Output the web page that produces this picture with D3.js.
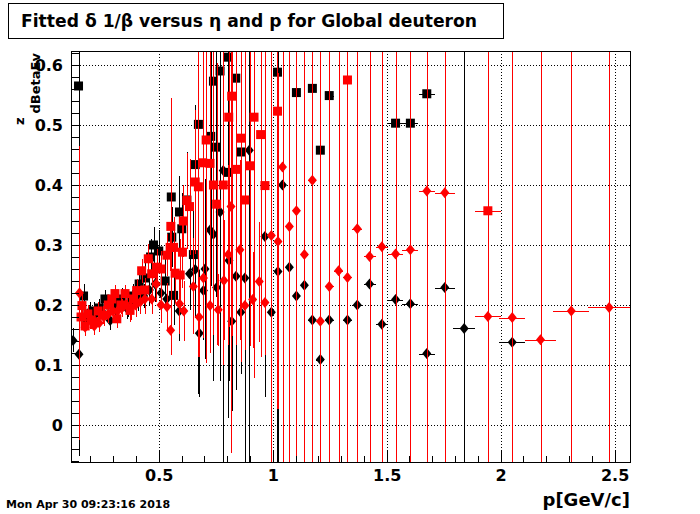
<!DOCTYPE html>
<html lang="en">
<head>
<meta charset="UTF-8">
<title>Fitted dBeta vs eta and p</title>
<style>
  body { margin: 0; background: #fff; }
  svg text { font-family: "DejaVu Sans", sans-serif; font-weight: bold; fill: #000; }
</style>
</head>
<body>
<div id="chart"></div>
<script src="https://d3js.org/d3.v7.min.js"></script>
<script>
// black squares
var bsP = [0.148,0.170,0.190,0.214,0.239,0.264,0.289,0.314,0.339,0.364,0.389,0.414,0.439,0.464,0.477,0.500,0.528,0.555,0.557,0.565,0.591,0.601,0.623,0.652,0.660,0.674,0.728,0.740,0.751,0.769,0.803,0.805,0.838,0.861,1.021,1.104,1.174,1.209,1.248,1.539,1.604,1.676];
var bsZ = [0.565,0.215,0.185,0.190,0.195,0.210,0.200,0.205,0.210,0.200,0.215,0.235,0.245,0.280,0.300,0.290,0.240,0.380,0.313,0.216,0.355,0.327,0.375,0.284,0.434,0.501,0.481,0.573,0.463,0.590,0.421,0.613,0.578,0.455,0.588,0.554,0.561,0.458,0.549,0.503,0.503,0.552];
var bsEz = [0.130,0.020,0.015,0.015,0.015,0.015,0.015,0.015,0.018,0.020,0.020,0.020,0.025,0.030,0.030,0.035,0.040,0.050,0.050,0.050,0.060,0.060,0.080,0.080,0.100,0.450,0.250,0.500,0.250,0.516,0.410,0.300,0.520,0.370,0.700,0.800,0.800,0.800,0.800,1.000,1.000,1.000];
var bsEp = [0.008,0.008,0.008,0.008,0.008,0.008,0.008,0.008,0.008,0.008,0.008,0.008,0.008,0.008,0.008,0.008,0.008,0.008,0.008,0.008,0.008,0.008,0.008,0.008,0.008,0.008,0.008,0.008,0.008,0.008,0.008,0.008,0.008,0.008,0.010,0.016,0.017,0.018,0.019,0.032,0.035,0.036];

// black diamonds
var bdP = [0.124,0.150,0.179,0.199,0.224,0.249,0.287,0.309,0.334,0.359,0.384,0.409,0.434,0.459,0.484,0.510,0.535,0.590,0.635,0.660,0.678,0.696,0.703,0.725,0.740,0.754,0.769,0.783,0.808,0.820,0.839,0.860,0.878,0.897,0.966,0.994,1.023,1.043,1.073,1.104,1.139,1.174,1.209,1.248,1.328,1.371,1.425,1.479,1.539,1.604,1.676,1.755,1.840,2.051];
var bdZ = [0.141,0.118,0.175,0.190,0.185,0.190,0.174,0.195,0.200,0.195,0.205,0.210,0.215,0.225,0.235,0.220,0.210,0.190,0.252,0.259,0.153,0.224,0.260,0.325,0.318,0.229,0.355,0.424,0.274,0.173,0.248,0.188,0.245,0.458,0.314,0.188,0.256,0.400,0.263,0.215,0.233,0.175,0.109,0.175,0.175,0.200,0.235,0.168,0.209,0.202,0.119,0.229,0.161,0.138];
var bdEz = [0.020,0.170,0.015,0.015,0.015,0.015,0.015,0.015,0.015,0.018,0.020,0.020,0.020,0.025,0.030,0.030,0.035,0.050,0.060,0.080,0.106,0.082,0.150,0.200,0.200,0.090,0.250,0.600,0.200,0.150,0.150,0.100,0.400,0.600,0.267,0.600,0.600,0.800,0.800,0.800,0.800,0.800,0.800,0.800,0.800,0.800,0.800,0.800,0.800,0.800,0.800,0.800,1.000,0.800];
var bdEp = [0.008,0.008,0.008,0.008,0.008,0.008,0.008,0.008,0.008,0.008,0.008,0.008,0.008,0.008,0.008,0.008,0.008,0.008,0.008,0.008,0.008,0.008,0.008,0.008,0.008,0.008,0.008,0.008,0.008,0.008,0.008,0.008,0.008,0.008,0.012,0.014,0.012,0.012,0.015,0.016,0.017,0.017,0.018,0.019,0.020,0.022,0.026,0.027,0.032,0.035,0.036,0.044,0.048,0.057];

// red squares
var rsP = [0.163,0.159,0.177,0.189,0.204,0.217,0.234,0.257,0.279,0.294,0.308,0.316,0.334,0.352,0.374,0.389,0.403,0.425,0.439,0.454,0.469,0.491,0.510,0.536,0.550,0.553,0.565,0.572,0.594,0.604,0.608,0.623,0.635,0.660,0.674,0.693,0.708,0.725,0.740,0.754,0.783,0.807,0.820,0.839,0.860,0.878,0.900,0.918,0.947,0.966,1.021,1.328,1.944];
var rsZ = [0.199,0.180,0.165,0.185,0.175,0.172,0.190,0.183,0.200,0.210,0.219,0.177,0.200,0.219,0.191,0.210,0.224,0.257,0.225,0.277,0.252,0.263,0.260,0.283,0.296,0.331,0.296,0.253,0.250,0.288,0.340,0.374,0.364,0.405,0.397,0.437,0.475,0.436,0.400,0.368,0.400,0.513,0.548,0.426,0.478,0.375,0.432,0.513,0.484,0.399,0.523,0.575,0.357];
var rsEz = [0.020,0.020,0.015,0.015,0.015,0.015,0.015,0.015,0.015,0.015,0.015,0.015,0.015,0.015,0.020,0.020,0.020,0.020,0.020,0.025,0.025,0.030,0.030,0.035,0.040,0.214,0.050,0.050,0.060,0.060,0.060,0.080,0.080,0.120,0.284,0.200,0.372,0.316,0.250,0.235,0.300,0.350,0.400,0.293,0.373,0.250,0.300,0.435,0.370,0.282,0.496,1.000,1.000];
var rsEp = [0.008,0.008,0.008,0.008,0.008,0.008,0.008,0.008,0.008,0.008,0.008,0.008,0.008,0.008,0.008,0.008,0.008,0.008,0.008,0.008,0.008,0.008,0.008,0.008,0.008,0.008,0.008,0.008,0.008,0.008,0.008,0.008,0.008,0.008,0.008,0.008,0.008,0.008,0.008,0.008,0.008,0.008,0.008,0.008,0.008,0.008,0.008,0.012,0.012,0.012,0.012,0.020,0.056];

// red diamonds
var rdP = [0.152,0.177,0.199,0.217,0.239,0.259,0.279,0.299,0.319,0.339,0.359,0.379,0.399,0.419,0.439,0.469,0.489,0.510,0.536,0.552,0.591,0.610,0.652,0.677,0.696,0.725,0.761,0.786,0.805,0.817,0.856,0.878,0.912,0.941,0.966,0.994,1.023,1.043,1.073,1.104,1.139,1.174,1.209,1.248,1.289,1.328,1.371,1.425,1.479,1.539,1.604,1.676,1.755,1.944,2.051,2.175,2.310,2.476];
var rdZ = [0.220,0.163,0.175,0.165,0.170,0.180,0.185,0.190,0.190,0.195,0.200,0.195,0.200,0.205,0.210,0.210,0.235,0.200,0.197,0.158,0.202,0.190,0.231,0.180,0.245,0.199,0.192,0.241,0.284,0.364,0.292,0.199,0.209,0.239,0.204,0.316,0.306,0.430,0.331,0.357,0.284,0.408,0.173,0.231,0.257,0.246,0.327,0.281,0.297,0.285,0.292,0.390,0.387,0.181,0.179,0.142,0.190,0.196];
var rdEz = [0.245,0.015,0.015,0.015,0.015,0.015,0.015,0.015,0.015,0.015,0.015,0.020,0.020,0.020,0.025,0.025,0.030,0.030,0.040,0.040,0.050,0.050,0.080,0.067,0.100,0.060,0.060,0.100,0.150,0.410,0.150,0.070,0.080,0.100,0.080,0.800,0.280,1.000,1.000,1.000,1.000,1.000,1.000,1.000,1.000,1.000,1.000,1.000,1.000,1.000,1.000,1.000,1.000,1.000,1.000,1.000,1.000,1.000];
var rdEp = [0.008,0.008,0.008,0.008,0.008,0.008,0.008,0.008,0.008,0.008,0.008,0.008,0.008,0.008,0.008,0.008,0.008,0.008,0.008,0.008,0.008,0.008,0.008,0.008,0.008,0.008,0.008,0.008,0.008,0.008,0.008,0.008,0.012,0.012,0.012,0.014,0.012,0.012,0.015,0.016,0.017,0.017,0.018,0.019,0.019,0.020,0.022,0.026,0.027,0.032,0.035,0.036,0.044,0.056,0.057,0.066,0.079,0.092];

var xTicks = [0.5, 1, 1.5, 2, 2.5];
var yTicks = [0, 0.1, 0.2, 0.3, 0.4, 0.5, 0.6];

var titleText = "Fitted \u03b4 1/\u03b2 versus \u03b7 and p for Global deuteron";
var dateText = "Mon Apr 30 09:23:16 2018";

var W = 700, H = 514;
var fL = 71, fR = 631, fT = 51, fB = 462;

var svg = d3.select("#chart").append("svg")
    .attr("width", W)
    .attr("height", H);

svg.append("rect").attr("width", W).attr("height", H).attr("fill", "#fff");

var x = d3.scaleLinear().domain([0.115, 2.572]).range([fL, fR]);
var y = d3.scaleLinear().domain([-0.0617, 0.6233]).range([fB, fT]);

// title box
svg.append("rect")
    .attr("x", 8.5).attr("y", 3.5).attr("width", 495).attr("height", 35)
    .attr("fill", "#fff").attr("stroke", "#000").attr("stroke-width", 1);
svg.append("text")
    .attr("x", 21).attr("y", 27)
    .style("font-size", "17px")
    .attr("textLength", 456)
    .attr("lengthAdjust", "spacingAndGlyphs")
    .text(titleText);

// dotted grid
var grid = svg.append("g").attr("stroke", "#000").attr("stroke-width", 1)
    .attr("stroke-dasharray", "1,2").attr("shape-rendering", "crispEdges");
grid.selectAll("line.gx").data(xTicks).enter().append("line")
    .attr("x1", d => Math.round(x(d)) + 0.5).attr("x2", d => Math.round(x(d)) + 0.5)
    .attr("y1", fT).attr("y2", fB);
grid.selectAll("line.gy").data(yTicks).enter().append("line")
    .attr("y1", d => Math.round(y(d)) + 0.5).attr("y2", d => Math.round(y(d)) + 0.5)
    .attr("x1", fL).attr("x2", fR);

// data
svg.append("clipPath").attr("id", "frameClip")
    .append("rect").attr("x", fL).attr("y", fT).attr("width", fR - fL).attr("height", fB - fT);
var plot = svg.append("g").attr("clip-path", "url(#frameClip)");

function drawGroup(ps, zs, ezs, eps, color, shape) {
    var rows = ps.map(function (p, i) {
        return { p: p, z: zs[i], ez: ezs[i], ep: eps[i] };
    });
    var g = plot.append("g");
    var err = g.append("g").attr("stroke", color).attr("stroke-width", 1)
        .attr("shape-rendering", "crispEdges");
    err.selectAll("line.v").data(rows).enter().append("line")
        .attr("x1", d => Math.round(x(d.p)) + 0.5).attr("x2", d => Math.round(x(d.p)) + 0.5)
        .attr("y1", d => y(d.z - d.ez)).attr("y2", d => y(d.z + d.ez));
    err.selectAll("line.h").data(rows).enter().append("line")
        .attr("y1", d => Math.round(y(d.z)) + 0.5).attr("y2", d => Math.round(y(d.z)) + 0.5)
        .attr("x1", d => x(d.p - d.ep)).attr("x2", d => x(d.p + d.ep));
    if (shape === "square") {
        g.selectAll("rect").data(rows).enter().append("rect")
            .attr("x", d => x(d.p) - 4.5).attr("y", d => y(d.z) - 4.5)
            .attr("width", 9).attr("height", 9)
            .attr("fill", color);
    } else {
        g.selectAll("path").data(rows).enter().append("path")
            .attr("d", function (d) {
                var cx = x(d.p), cy = y(d.z), hw = 4.5, hh = 5.5;
                return "M" + cx + "," + (cy - hh) + " L" + (cx + hw) + "," + cy +
                    " L" + cx + "," + (cy + hh) + " L" + (cx - hw) + "," + cy + " Z";
            })
            .attr("fill", color);
    }
}

drawGroup(bsP, bsZ, bsEz, bsEp, "#000", "square");
drawGroup(bdP, bdZ, bdEz, bdEp, "#000", "diamond");
drawGroup(rsP, rsZ, rsEz, rsEp, "#ff0000", "square");
drawGroup(rdP, rdZ, rdEz, rdEp, "#ff0000", "diamond");

// axes, ROOT style ticks inside the frame
var xAxis = svg.append("g").attr("transform", "translate(0," + fB + ")")
    .call(d3.axisBottom(x).tickValues(xTicks).tickSize(-12).tickPadding(8)
        .tickFormat(d3.format("")));
var xMinor = svg.append("g").attr("transform", "translate(0," + fB + ")")
    .call(d3.axisBottom(x).tickValues(d3.range(0.2, 2.55, 0.1)).tickSize(-6).tickFormat(""));
var yAxis = svg.append("g").attr("transform", "translate(" + fL + ",0)")
    .call(d3.axisLeft(y).tickValues(yTicks).tickSize(-8).tickPadding(8)
        .tickFormat(d3.format("")));
var yMinor = svg.append("g").attr("transform", "translate(" + fL + ",0)")
    .call(d3.axisLeft(y).tickValues(d3.range(-0.06, 0.625, 0.02)).tickSize(-8).tickFormat(""));

[xAxis, xMinor, yAxis, yMinor].forEach(function (a) {
    a.select(".domain").remove();
    a.selectAll(".tick line").attr("stroke", "#000").attr("shape-rendering", "crispEdges");
    a.selectAll("text").style("font-family", "DejaVu Sans").style("font-weight", "bold")
        .style("font-size", "16px").attr("fill", "#000");
});

// frame
svg.append("rect")
    .attr("x", fL + 0.5).attr("y", fT + 0.5).attr("width", fR - fL - 1).attr("height", fB - fT)
    .attr("fill", "none").attr("stroke", "#000").attr("stroke-width", 1)
    .attr("shape-rendering", "crispEdges");

// axis titles
svg.append("text")
    .attr("x", 630).attr("y", 506)
    .attr("text-anchor", "end")
    .style("font-size", "18px")
    .text("p[GeV/c]");

svg.append("text")
    .attr("transform", "translate(23.5,125) rotate(-90)")
    .style("font-size", "13px")
    .text("z");
svg.append("text")
    .attr("transform", "translate(39.5,113.5) rotate(-90)")
    .style("font-size", "13px")
    .text("dBetaEv");

// date stamp
svg.append("text")
    .attr("x", 6).attr("y", 508)
    .style("font-size", "11px")
    .text(dateText);
</script>
</body>
</html>
